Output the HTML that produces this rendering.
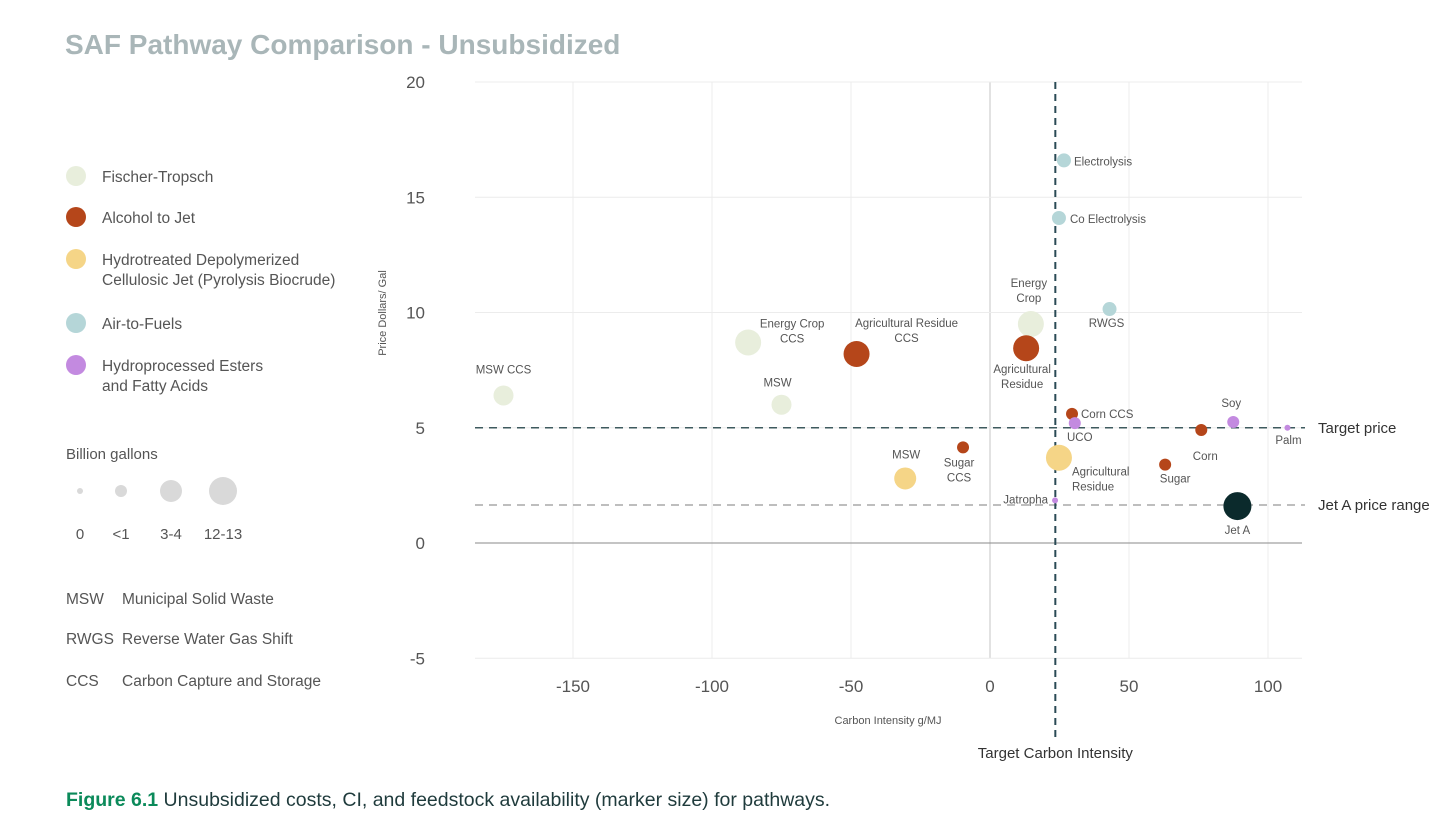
<!DOCTYPE html>
<html><head><meta charset="utf-8"><style>
body{margin:0;width:1448px;height:828px;background:#fff;font-family:"Liberation Sans",sans-serif;overflow:hidden;position:relative}
.t{position:absolute;white-space:nowrap}
</style></head><body>
<div class="t" style="left:65px;top:29px;font-size:28px;font-weight:bold;color:#a9b6b8;letter-spacing:0px">SAF Pathway Comparison - Unsubsidized</div>
<svg id="c" width="1448" height="828" style="position:absolute;left:0;top:0"></svg>
<div class="t" style="left:66px;top:789px;font-size:19.5px;color:#1f3b3c;letter-spacing:0px"><b style="color:#0b8a5a">Figure 6.1</b> Unsubsidized costs, CI, and feedstock availability (marker size) for pathways.</div>
<script>
const NS="http://www.w3.org/2000/svg";
const svg=document.getElementById('c');
const xTicks=[-150,-100,-50,0,50,100];
const yTicks=[-5,0,5,10,15,20];
const names=["MSW CCS","Energy Crop|CCS","MSW","Energy|Crop","Agricultural Residue|CCS","Agricultural|Residue","Sugar|CCS","Corn CCS","Corn","Sugar","MSW","Agricultural|Residue","Electrolysis","Co Electrolysis","RWGS","UCO","Soy","Palm","Jatropha","Jet A"];
const xs=[-175,-87,-75,14.7,-48,13,-9.7,29.5,76,63,-30.5,24.8,26.6,24.8,43,30.5,87.5,107,23.4,89];
const ys=[6.4,8.7,6.0,9.5,8.2,8.45,4.15,5.6,4.9,3.4,2.8,3.7,16.6,14.1,10.15,5.2,5.25,5.0,1.85,1.6];
const sizes=[10,13,10,13,13,13,6,6,6,6,11,13,7,7,7,6,6,3,3,14];
const groups=[0,0,0,0,1,1,1,1,1,1,2,2,3,3,3,4,4,4,4,5];
const targetCI=23.5, targetPrice=5, jetAPrice=1.65;
const colors=["#e8eedc","#b5461a","#f5d587","#b5d6d8","#c38ae0","#0b2a2c"];
const lo=[[0,-22,"middle"],[44,-15,"middle"],[-4,-18,"middle"],[-2,-37,"middle"],[50,-27,"middle"],[-4,25,"middle"],[-4,19,"middle"],[9,4,"start"],[4,30,"middle"],[10,18,"middle"],[1,-20,"middle"],[13,18,"start"],[10,5,"start"],[11,5,"start"],[-3,18,"middle"],[5,18,"middle"],[-2,-15,"middle"],[1,16,"middle"],[-7,3,"end"],[0,28,"middle"]];
const X=v=>990+v*2.78, Y=v=>543-v*23.05;
function el(t,a,n,p){const e=document.createElementNS(NS,t);for(const k in a)e.setAttribute(k,a[k]);(p||svg).appendChild(e);return e;}
const L=475,R=1302;
xTicks.forEach(v=>{el('line',{x1:X(v),x2:X(v),y1:82,y2:658,stroke:v===0?'#c4c4c4':'#ececec','stroke-width':1},'x-gridline');
 const t=el('text',{x:X(v),y:692,'text-anchor':'middle','font-size':17,fill:'#555'},'x-tick-label');t.textContent=v;});
yTicks.forEach(v=>{el('line',{x1:L,x2:R,y1:Y(v),y2:Y(v),stroke:v===0?'#8a8a8a':'#ececec','stroke-width':1},'y-gridline');
 const t=el('text',{x:425,y:Y(v)+6,'text-anchor':'end','font-size':17,fill:'#555'},'y-tick-label');t.textContent=v;});
let t=el('text',{x:888,y:724,'text-anchor':'middle','font-size':11,fill:'#555'},'x-axis-title');t.textContent="Carbon Intensity g/MJ";
t=el('text',{x:386,y:313,'text-anchor':'middle','font-size':11,fill:'#555',transform:'rotate(-90 386 313)'},'y-axis-title');t.textContent="Price Dollars/ Gal";
el('line',{x1:L,x2:1305,y1:Y(targetPrice),y2:Y(targetPrice),stroke:'#3e5a5e','stroke-width':1.5,'stroke-dasharray':'8 6'},'target-price-line');
el('line',{x1:L,x2:1305,y1:Y(jetAPrice),y2:Y(jetAPrice),stroke:'#a8a8a8','stroke-width':1.5,'stroke-dasharray':'8 6'},'jet-a-price-line');
el('line',{x1:X(targetCI),x2:X(targetCI),y1:82,y2:740,stroke:'#2a4a55','stroke-width':2,'stroke-dasharray':'7 5'},'target-ci-line');
t=el('text',{x:1318,y:Y(targetPrice)+5,'font-size':15,fill:'#333'},'target-price-label');t.textContent="Target price";
t=el('text',{x:1318,y:Y(jetAPrice)+5,'font-size':15,fill:'#333'},'jet-a-range-label');t.textContent="Jet A price range";
t=el('text',{x:X(targetCI),y:758,'text-anchor':'middle','font-size':15,fill:'#333'},'target-ci-label');t.textContent="Target Carbon Intensity";
xs.forEach((v,i)=>{const cx=X(v),cy=Y(ys[i]);
 el('circle',{cx:cx,cy:cy,r:sizes[i],fill:colors[groups[i]]},'point-'+names[i].replace('|',' ').toLowerCase().replace(/ /g,'-'));
 const o=lo[i];const lines=names[i].split('|');
 const tt=el('text',{x:cx+o[0],y:cy+o[1],'text-anchor':o[2],'font-size':11.5,fill:'#555'},'point-label');
 lines.forEach((s,k)=>{const sp=el('tspan',{x:cx+o[0],dy:k?15:0},'label-line',tt);sp.textContent=s;});
});
const legNames=["Fischer-Tropsch","Alcohol to Jet","Hydrotreated Depolymerized|Cellulosic Jet (Pyrolysis Biocrude)","Air-to-Fuels","Hydroprocessed Esters|and Fatty Acids"];
const legY=[176,217,259,323,365];
legNames.forEach((n,i)=>{el('circle',{cx:76,cy:legY[i],r:10,fill:colors[i]},'legend-marker');
 const tt=el('text',{x:102,y:legY[i]+6,'font-size':15.5,fill:'#555'},'legend-entry');
 n.split('|').forEach((s,k)=>{const sp=el('tspan',{x:102,dy:k?20:0},'legend-line',tt);sp.textContent=s;});});
t=el('text',{x:66,y:459,'font-size':15,fill:'#555'},'size-legend-title');t.textContent="Billion gallons";
[[80,3,"0"],[121,6,"<1"],[171,11,"3-4"],[223,14,"12-13"]].forEach(a=>{el('circle',{cx:a[0],cy:491,r:a[1],fill:'#d9d9d9'},'size-legend-marker');
 const q=el('text',{x:a[0],y:539,'text-anchor':'middle','font-size':15,fill:'#555'},'size-legend-label');q.textContent=a[2];});
[["MSW","Municipal Solid Waste",604],["RWGS","Reverse Water Gas Shift",644],["CCS","Carbon Capture and Storage",686]].forEach(a=>{
 let q=el('text',{x:66,y:a[2],'font-size':15.5,fill:'#555'},'abbrev-key');q.textContent=a[0];
 q=el('text',{x:122,y:a[2],'font-size':15.5,fill:'#555'},'abbrev-definition');q.textContent=a[1];});
</script>
</body></html>
